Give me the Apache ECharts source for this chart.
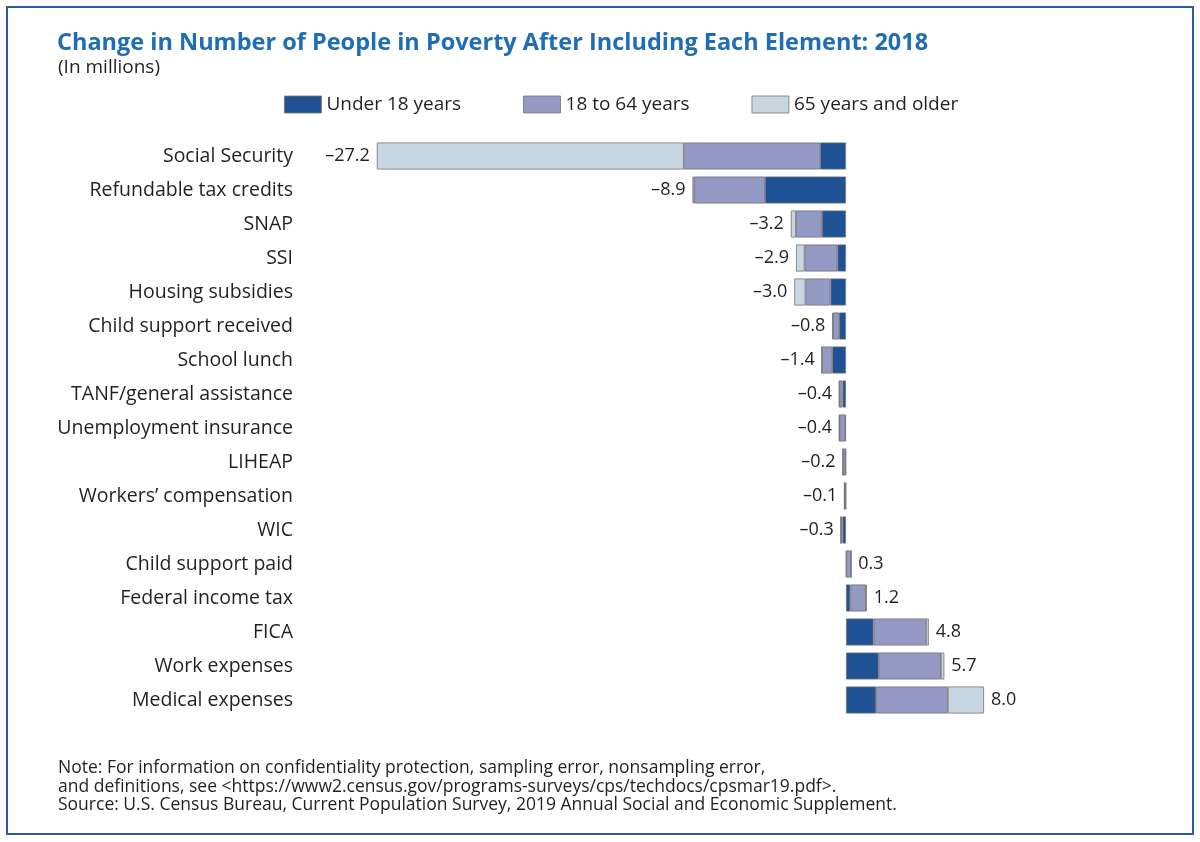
<!DOCTYPE html>
<html>
<head>
<meta charset="utf-8">
<script src="https://cdn.jsdelivr.net/npm/echarts@6/dist/echarts.min.js"></script>
<style>
  html, body { margin: 0; padding: 0; background: #fff; }
  #chart { width: 1200px; height: 842px; }
</style>
</head>
<body>
<div id="chart"></div>
<script>
// categories, top to bottom
const categories = [
  "Social Security", "Refundable tax credits", "SNAP", "SSI", "Housing subsidies",
  "Child support received", "School lunch", "TANF/general assistance",
  "Unemployment insurance", "LIHEAP", "Workers\u2019 compensation", "WIC",
  "Child support paid", "Federal income tax", "FICA", "Work expenses", "Medical expenses"
];

// change in people in poverty, millions, by age group
const under18 = [-1.5, -4.7, -1.4, -0.5, -0.9, -0.4, -0.8, -0.2, -0.05, -0.03, -0.02, -0.2, 0.02, 0.25, 1.6, 1.9, 1.75];
const age18to64 = [-7.9, -4.1, -1.5, -1.9, -1.45, -0.35, -0.6, -0.18, -0.33, -0.15, -0.07, -0.1, 0.28, 0.9, 3.05, 3.6, 4.15];
const age65plus = [-17.8, -0.1, -0.3, -0.5, -0.65, -0.05, 0, -0.02, -0.02, -0.02, -0.01, 0, 0, 0.05, 0.15, 0.2, 2.1];
const totals = [-27.2, -8.9, -3.2, -2.9, -3.0, -0.8, -1.4, -0.4, -0.4, -0.2, -0.1, -0.3, 0.3, 1.2, 4.8, 5.7, 8.0];

const seriesNames = ["Under 18 years", "18 to 64 years", "65 years and older"];
const colors = ["#1f5195", "#959ac4", "#c8d6e2"];

const FONT = "Open Sans";
const chart = echarts.init(document.getElementById("chart"), null, { renderer: "canvas" });

function stackSeries(name, data, color) {
  return {
    name: name,
    type: "bar",
    stack: "total",
    barWidth: 27,
    data: data,
    itemStyle: { color: color, borderColor: "#737373", borderWidth: 0.8 },
    emphasis: { disabled: true },
    z: 3
  };
}

const option = {
  backgroundColor: "#ffffff",
  animation: false,
  textStyle: { fontFamily: FONT },
  title: [
    {
      text: "Change in Number of People in Poverty After Including Each Element: 2018",
      left: 52, top: 26,
      textStyle: { fontFamily: FONT, fontSize: 23.5, fontWeight: "bold", color: "#1f6db4" }
    },
    {
      text: "(In millions)",
      left: 53, top: 53,
      textStyle: { fontFamily: FONT, fontSize: 19, fontWeight: "normal", color: "#231f20" }
    },
    {
      text: "Note: For information on confidentiality protection, sampling error, nonsampling error,\nand definitions, see <https://www2.census.gov/programs-surveys/cps/techdocs/cpsmar19.pdf>.\nSource: U.S. Census Bureau, Current Population Survey, 2019 Annual Social and Economic Supplement.",
      left: 53, top: 754,
      textStyle: { fontFamily: FONT, fontSize: 17.5, fontWeight: "normal", color: "#231f20", lineHeight: 18.5 }
    }
  ],
  legend: {
    left: 279, top: 90,
    itemWidth: 37, itemHeight: 17, itemGap: 62,
    icon: "rect",
    selectedMode: false,
    data: seriesNames,
    itemStyle: { borderColor: "#737373", borderWidth: 0.8 },
    textStyle: { fontFamily: FONT, fontSize: 19, color: "#231f20" }
  },
  grid: { left: 363, right: 181.5, top: 139, bottom: 125, containLabel: false },
  xAxis: {
    type: "value", min: -28, max: 10,
    show: false,
    splitLine: { show: false }
  },
  yAxis: {
    type: "category",
    data: categories,
    inverse: true,
    axisLine: { show: false },
    axisTick: { show: false },
    axisLabel: { margin: 70, fontFamily: FONT, fontSize: 19.5, color: "#231f20" }
  },
  series: [
    stackSeries(seriesNames[0], under18, colors[0]),
    stackSeries(seriesNames[1], age18to64, colors[1]),
    stackSeries(seriesNames[2], age65plus, colors[2]),
    {
      name: "Total",
      type: "bar",
      barWidth: 27,
      barGap: "-100%",
      data: totals.map(v => ({
        value: v,
        label: { position: v < 0 ? "left" : "right" }
      })),
      itemStyle: { color: "rgba(0,0,0,0)" },
      emphasis: { disabled: true },
      z: 1,
      label: {
        show: true,
        distance: 7,
        fontFamily: FONT, fontSize: 18, color: "#231f20",
        formatter: p => (p.value < 0 ? "\u2013" : "") + Math.abs(p.value).toFixed(1)
      }
    }
  ],
  graphic: [
    {
      type: "rect",
      shape: { x: 7, y: 7, width: 1186, height: 827 },
      style: { fill: null, stroke: "#2c5aa0", lineWidth: 2 },
      silent: true
    }
  ]
};

chart.setOption(option);
</script>
</body>
</html>
